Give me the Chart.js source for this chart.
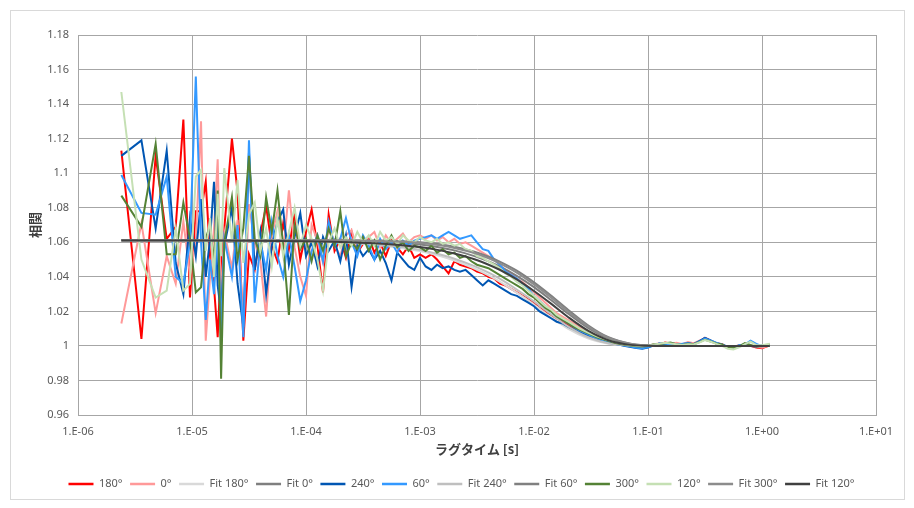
<!DOCTYPE html>
<html>
<head>
<meta charset="utf-8">
<script src="https://cdn.jsdelivr.net/npm/chart.js@4"></script>
<style>
  html, body { margin: 0; padding: 0; background: #fff; }
  #wrap { width: 914px; height: 508px; }
</style>
</head>
<body>
<div id="wrap"><canvas id="c" width="914" height="508"></canvas></div>
<script>
// Lag times of the correlator channels, in microseconds
const lagUs = [2.4,3.6,4.8,6.0,7.2,8.4,9.6,10.8,12.0,13.2,14.4,15.6,16.8,18.0,19.2,
  22.4,25.1,28.2,31.6,35.5,39.8,44.7,50.1,56.2,63.1,70.8,79.4,89.1,
  100,112,126,141,158,178,200,224,251,282,316,355,398,447,501,562,631,708,794,891,
  1000,1120,1260,1410,1580,1780,2000,2240,2510,2820,3160,3550,3980,4470,5010,5620,6310,7080,7940,8910,
  10000,11200,12600,14100,15800,17800,20000,22400,25100,28200,31600,35500,39800,44700,50100,56200,63100,70800,79400,89100,
  100000,112000,126000,141000,158000,178000,200000,224000,251000,282000,316000,355000,398000,447000,501000,562000,631000,708000,794000,891000,
  1000000,1170000];

// Measured correlation per detection angle
const g180 = [1.113,1.004,1.110,1.062,1.069,1.131,1.028,1.078,1.078,1.095,1.052,1.034,1.005,1.050,1.068,
  1.120,1.089,1.003,1.053,1.044,1.065,1.081,1.058,1.049,1.071,1.056,1.077,1.050,
  1.066,1.079,1.058,1.031,1.076,1.055,1.062,1.051,1.066,1.054,1.059,1.063,1.054,1.060,1.052,1.061,1.057,1.053,1.058,1.051,
  1.053,1.051,1.053,1.050,1.046,1.042,1.049,1.047,1.046,1.045,1.043,1.042,1.040,1.039,1.036,1.035,1.033,1.031,1.029,1.027,
  1.025,1.022,1.020,1.018,1.016,1.014,1.012,1.010,1.009,1.0075,1.006,1.0045,1.0035,1.0026,1.0018,1.0010,1.0006,1.0002,0.9998,0.9994,
  0.9996,1.0008,1.0008,1.0020,1.0014,1.0006,1.0010,1.0018,1.0012,1.0026,1.0046,1.0030,1.0016,1.0010,0.9992,0.9996,1.0002,1.0006,1.0000,0.9990,
  0.9986,1.0004];
const g0 = [1.013,1.071,1.019,1.052,1.036,1.072,1.041,1.060,1.130,1.003,1.040,1.068,1.108,1.020,1.066,
  1.045,1.073,1.011,1.082,1.060,1.049,1.017,1.064,1.078,1.054,1.090,1.057,1.040,
  1.029,1.070,1.061,1.048,1.069,1.058,1.052,1.064,1.067,1.055,1.060,1.063,1.066,1.057,1.064,1.059,1.062,1.065,1.060,1.063,
  1.064,1.062,1.064,1.061,1.063,1.060,1.062,1.059,1.060,1.058,1.056,1.054,1.052,1.050,1.047,1.044,1.042,1.039,1.037,1.034,
  1.031,1.028,1.025,1.022,1.019,1.017,1.015,1.013,1.011,1.009,1.0075,1.006,1.0048,1.0036,1.0026,1.0018,1.0012,1.0006,1.0002,0.9998,
  1.0000,1.0008,1.0015,1.0008,1.0012,1.0018,1.0010,1.0022,1.0015,1.0030,1.0040,1.0026,1.0012,1.0004,0.9988,0.9990,1.0000,1.0008,1.0002,0.9995,
  0.9990,1.0002];
const g240 = [1.110,1.119,1.068,1.113,1.048,1.030,1.074,1.052,1.085,1.040,1.062,1.095,1.035,1.019,1.058,
  1.080,1.036,1.011,1.112,1.044,1.066,1.030,1.058,1.072,1.079,1.047,1.063,1.077,
  1.052,1.060,1.046,1.063,1.055,1.061,1.049,1.064,1.034,1.058,1.052,1.056,1.050,1.055,1.048,1.038,1.054,1.050,1.046,1.044,
  1.051,1.046,1.044,1.047,1.045,1.046,1.044,1.043,1.044,1.041,1.038,1.035,1.038,1.036,1.034,1.032,1.030,1.029,1.027,1.025,
  1.023,1.020,1.018,1.016,1.014,1.013,1.011,1.0095,1.008,1.0065,1.005,1.004,1.003,1.002,1.0012,1.0006,1.0000,0.9994,0.9988,0.9984,
  0.9990,1.0004,1.0014,1.0010,1.0016,1.0010,1.0008,1.0016,1.0010,1.0028,1.0046,1.0032,1.0014,1.0006,0.9994,0.9990,1.0002,1.0004,1.0000,0.9996,
  1.0002,1.0006];
const g60 = [1.099,1.077,1.076,1.098,1.040,1.036,1.060,1.156,1.060,1.015,1.050,1.030,1.072,1.008,1.062,
  1.040,1.070,1.005,1.119,1.025,1.060,1.044,1.072,1.052,1.040,1.064,1.046,1.026,
  1.038,1.055,1.064,1.049,1.072,1.058,1.062,1.074,1.060,1.052,1.064,1.058,1.050,1.062,1.056,1.060,1.054,1.061,1.058,1.061,
  1.062,1.063,1.064,1.062,1.064,1.066,1.064,1.062,1.063,1.064,1.060,1.056,1.055,1.050,1.047,1.043,1.041,1.039,1.036,1.033,
  1.029,1.026,1.023,1.020,1.017,1.015,1.013,1.011,1.009,1.0075,1.006,1.0045,1.0034,1.0024,1.0016,1.0008,1.0002,0.9996,0.9990,0.9986,
  0.9992,1.0004,1.0014,1.0012,1.0010,1.0006,1.0012,1.0016,1.0008,1.0024,1.0042,1.0030,1.0018,1.0008,0.9996,0.9992,1.0004,1.0008,1.0030,1.0012,
  0.9998,1.0004];
const g300 = [1.087,1.069,1.117,1.053,1.053,1.083,1.062,1.031,1.034,1.062,1.070,1.048,1.090,0.981,1.060,
  1.086,1.050,1.068,1.110,1.062,1.052,1.086,1.066,1.090,1.058,1.018,1.070,1.056,
  1.062,1.049,1.064,1.055,1.068,1.058,1.078,1.052,1.060,1.056,1.063,1.055,1.061,1.050,1.058,1.064,1.057,1.060,1.055,1.058,
  1.057,1.055,1.058,1.054,1.056,1.053,1.054,1.051,1.052,1.049,1.047,1.046,1.045,1.043,1.041,1.039,1.037,1.035,1.033,1.030,
  1.028,1.025,1.022,1.020,1.017,1.015,1.013,1.011,1.0095,1.008,1.0065,1.005,1.004,1.003,1.002,1.0013,1.0007,1.0002,0.9998,0.9996,
  1.0000,1.0010,1.0010,1.0016,1.0020,1.0008,1.0006,1.0012,1.0010,1.0022,1.0036,1.0026,1.0014,1.0008,0.9990,0.9992,0.9998,1.0016,1.0006,0.9996,
  1.0000,1.0008];
const g120 = [1.147,1.050,1.028,1.032,1.068,1.032,1.036,1.098,1.102,1.055,1.074,1.040,1.088,1.052,1.103,
  1.060,1.096,1.048,1.076,1.083,1.055,1.068,1.046,1.074,1.052,1.066,1.080,1.058,
  1.070,1.062,1.050,1.032,1.060,1.068,1.057,1.063,1.058,1.066,1.060,1.064,1.058,1.066,1.061,1.063,1.059,1.064,1.061,1.060,
  1.063,1.061,1.060,1.062,1.059,1.060,1.058,1.059,1.056,1.055,1.052,1.051,1.049,1.047,1.045,1.042,1.040,1.037,1.035,1.032,
  1.029,1.026,1.023,1.021,1.018,1.016,1.014,1.012,1.010,1.0085,1.007,1.0055,1.0044,1.0034,1.0024,1.0016,1.0010,1.0005,1.0001,0.9998,
  1.0002,1.0008,1.0012,1.0018,1.0014,1.0010,1.0006,1.0010,1.0008,1.0020,1.0034,1.0024,1.0012,1.0000,0.9984,0.9980,0.9992,1.0010,1.0025,1.0004,
  1.0004,1.0012];

// Fitted curves, sampled at these lag times (microseconds)
const fitLagUs = [2.4,10,30,100,200,400,700,1000,1500,2000,3000,4000,5000,7000,10000,14000,20000,30000,45000,70000,100000,150000,300000,1170000];
const fit180 = [1.0610,1.0610,1.0609,1.0605,1.0598,1.0585,1.0566,1.0549,1.0520,1.0494,1.0448,1.0408,1.0372,1.0310,1.0240,1.0168,1.0098,1.0042,1.0012,1.0002,1.0000,1.0000,1.0000,1.0000];
const fit0   = [1.0612,1.0612,1.0612,1.0611,1.0609,1.0604,1.0596,1.0587,1.0570,1.0553,1.0520,1.0489,1.0460,1.0407,1.0340,1.0267,1.0186,1.0103,1.0042,1.0010,1.0002,1.0000,1.0000,1.0000];
const fit240 = [1.0610,1.0610,1.0609,1.0606,1.0600,1.0589,1.0572,1.0556,1.0529,1.0505,1.0462,1.0424,1.0389,1.0328,1.0258,1.0185,1.0112,1.0050,1.0015,1.0003,1.0000,1.0000,1.0000,1.0000];
const fit60  = [1.0613,1.0613,1.0613,1.0613,1.0612,1.0610,1.0606,1.0600,1.0588,1.0574,1.0545,1.0516,1.0488,1.0437,1.0368,1.0293,1.0208,1.0118,1.0050,1.0013,1.0003,1.0000,1.0000,1.0000];
const fit300 = [1.0612,1.0612,1.0612,1.0612,1.0611,1.0608,1.0603,1.0596,1.0582,1.0567,1.0537,1.0507,1.0478,1.0426,1.0356,1.0282,1.0198,1.0111,1.0047,1.0012,1.0002,1.0000,1.0000,1.0000];
const fit120 = [1.0610,1.0610,1.0609,1.0606,1.0602,1.0594,1.0583,1.0572,1.0553,1.0535,1.0502,1.0470,1.0441,1.0387,1.0318,1.0246,1.0166,1.0087,1.0033,1.0006,1.0001,1.0000,1.0000,1.0000];

// Axis ticks
const xTickValues = [1e-6, 1e-5, 1e-4, 1e-3, 1e-2, 1e-1, 1e0, 1e1];
const xTickLabels = ['1.E-06','1.E-05','1.E-04','1.E-03','1.E-02','1.E-01','1.E+00','1.E+01'];
const yTickValues = [0.96,0.98,1.00,1.02,1.04,1.06,1.08,1.10,1.12,1.14,1.16,1.18];
const yTickLabels = ['0.96','0.98','1','1.02','1.04','1.06','1.08','1.1','1.12','1.14','1.16','1.18'];

const seriesNames = ['180°','0°','Fit 180°','Fit 0°','240°','60°','Fit 240°','Fit 60°','300°','120°','Fit 300°','Fit 120°'];
const seriesColors = ['#FF0000','#FF9999','#D9D9D9','#7F7F7F','#0056B3','#3399FF','#BFBFBF','#808080','#548235','#C5E0B4','#8C8C8C','#404040'];

function toPoints(lags, values) {
  return lags.map((t, i) => ({ x: t * 1e-6, y: values[i] }));
}

const seriesData = [
  toPoints(lagUs, g180), toPoints(lagUs, g0), toPoints(fitLagUs, fit180), toPoints(fitLagUs, fit0),
  toPoints(lagUs, g240), toPoints(lagUs, g60), toPoints(fitLagUs, fit240), toPoints(fitLagUs, fit60),
  toPoints(lagUs, g300), toPoints(lagUs, g120), toPoints(fitLagUs, fit300), toPoints(fitLagUs, fit120)
];

const datasets = seriesNames.map((name, i) => {
  const isFit = name.startsWith('Fit');
  return {
    label: name,
    data: seriesData[i],
    borderColor: seriesColors[i],
    backgroundColor: seriesColors[i],
    borderWidth: 2,
    pointRadius: 0,
    pointHoverRadius: 0,
    pointBorderWidth: 2.5,
    pointBorderColor: seriesColors[i],
    tension: 0,
    cubicInterpolationMode: isFit ? 'monotone' : 'default',
    fill: false,
    // later series are painted above earlier ones
    order: seriesNames.length - i
  };
});

const frame = {
  id: 'frame',
  beforeDraw(chart) {
    const ctx = chart.ctx;
    ctx.save();
    ctx.fillStyle = '#ffffff';
    ctx.fillRect(0, 0, chart.width, chart.height);
    ctx.strokeStyle = '#D9D9D9';
    ctx.lineWidth = 1;
    ctx.strokeRect(10.5, 10.5, 894, 489);
    ctx.restore();
  }
};

const gridColor = '#A6A6A6';
const textColor = '#595959';
const baseFont = "'Noto Sans', 'Noto Sans CJK JP', sans-serif";
const titleFont = "'Noto Sans CJK JP', 'Noto Sans', sans-serif";

new Chart(document.getElementById('c'), {
  type: 'line',
  data: { datasets },
  plugins: [frame],
  options: {
    responsive: false,
    animation: false,
    layout: { padding: { left: 47, right: 38, top: 35, bottom: 8.5 } },
    scales: {
      x: {
        type: 'logarithmic',
        min: 1e-6,
        max: 10,
        afterBuildTicks(scale) { scale.ticks = xTickValues.map(v => ({ value: v })); },
        afterFit(scale) { scale.height = 56; },
        grid: { color: gridColor, lineWidth: 1, drawTicks: false },
        border: { color: gridColor, width: 1 },
        ticks: {
          autoSkip: false, maxRotation: 0, padding: 10,
          color: textColor, font: { family: baseFont, size: 11 },
          callback(value, index) { return xTickLabels[index]; }
        },
        title: {
          display: true, text: 'ラグタイム [s]', color: '#404040',
          font: { family: titleFont, size: 13, weight: 'bold' },
          padding: { top: 0, bottom: 14 }
        }
      },
      y: {
        type: 'linear',
        min: 0.96,
        max: 1.18,
        afterBuildTicks(scale) { scale.ticks = yTickValues.map(v => ({ value: v })); },
        afterFit(scale) { scale.width = 31; },
        grid: { color: gridColor, lineWidth: 1, drawTicks: false },
        border: { color: gridColor, width: 1 },
        ticks: {
          padding: 9, color: textColor, font: { family: baseFont, size: 11 },
          callback(value, index) { return yTickLabels[index]; }
        },
        title: {
          display: true, text: '相関', color: '#404040',
          font: { family: titleFont, size: 13, weight: 'bold' },
          padding: { top: -20, bottom: 0 }
        }
      }
    },
    plugins: {
      legend: {
        position: 'bottom',
        labels: {
          sort: (a, b) => a.datasetIndex - b.datasetIndex,
          usePointStyle: true, pointStyle: 'line', pointStyleWidth: 25,
          padding: 7.5, color: textColor, font: { family: baseFont, size: 11 }
        }
      },
      tooltip: { enabled: false }
    }
  }
});
</script>
</body>
</html>
